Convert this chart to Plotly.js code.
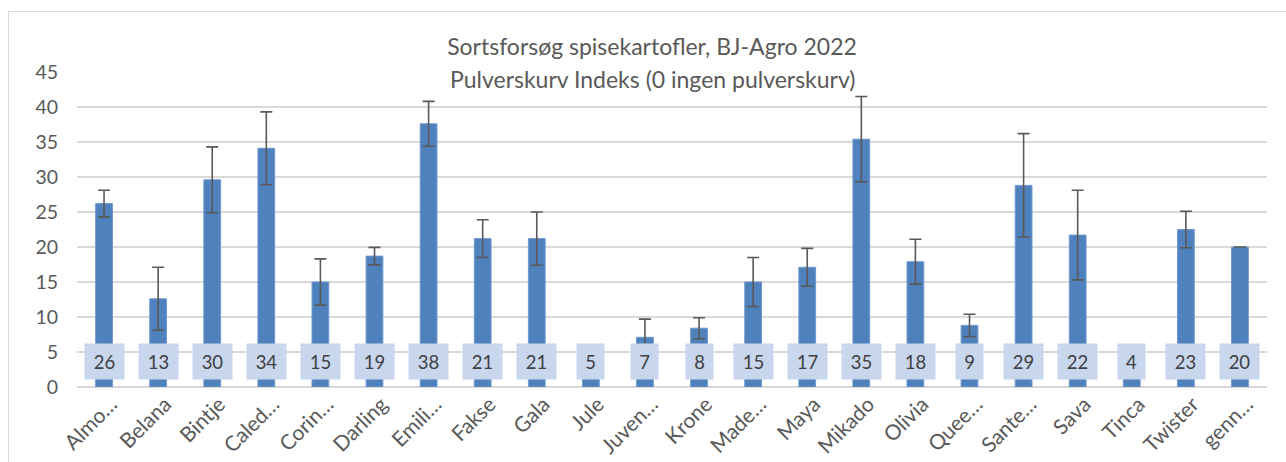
<!DOCTYPE html>
<html>
<head>
<meta charset="utf-8">
<script src="https://cdn.plot.ly/plotly-3.0.1.min.js"></script>
<style>
  html, body { margin: 0; padding: 0; background: #ffffff; overflow: hidden; }
  #chart { position: absolute; left: 0; top: 0; width: 1286px; height: 462px; }
  #frame { position: absolute; left: 8px; top: 11px; width: 1300px; height: 500px;
           border: 1px solid #d9d9d9; pointer-events: none; }
</style>
</head>
<body>
<div id="chart"></div>
<div id="frame"></div>
<script>
// Data
const categories = ["Almo…", "Belana", "Bintje", "Caled…", "Corin…", "Darling", "Emili…", "Fakse", "Gala", "Jule", "Juven…",
                    "Krone", "Made…", "Maya", "Mikado", "Olivia", "Quee…", "Sante…", "Sava", "Tinca", "Twister", "genn…"];
const values = [26.2, 12.6, 29.6, 34.1, 15.0, 18.7, 37.6, 21.2, 21.2, 4.8, 7.1,
                8.4, 15.0, 17.1, 35.4, 17.9, 8.8, 28.8, 21.7, 4.2, 22.5, 20.0];
const errors = [1.9, 4.5, 4.7, 5.2, 3.3, 1.25, 3.2, 2.7, 3.8, null, 2.6,
                1.5, 3.5, 2.7, 6.1, 3.2, 1.6, 7.4, 6.4, null, 2.6, null];
const titleLine1 = "Sortsforsøg spisekartofler, BJ-Agro 2022";
const titleLine2 = "Pulverskurv Indeks (0 ingen pulverskurv)";
const yTicks = [0, 5, 10, 15, 20, 25, 30, 35, 40, 45];

const FONT = "Lato, 'Open Sans', sans-serif";

const trace = {
  type: "bar",
  x: categories,
  y: values,
  marker: { color: "#4f81bd", line: { color: "#6e98cf", width: 1 } },
  error_y: { type: "data", array: errors, visible: true, color: "#595959", thickness: 1.6, width: 6 },
  hoverinfo: "skip"
};

const labelAnnotations = categories.map((c, i) => {
  const t = String(Math.round(values[i]));
  return {
    x: c, y: 3.67, xref: "x", yref: "y",
    text: t, showarrow: false,
    font: { family: FONT, size: 18.5, color: "#404040" },
    bgcolor: "#c8d6ee",
    width: t.length > 1 ? 37 : 25, height: 33, borderpad: 1,
    xanchor: "center", yanchor: "middle"
  };
});

labelAnnotations.push({
  text: titleLine2, xref: "paper", yref: "paper",
  x: (652 - 77) / (1267 - 77), y: 1 + (72 - 79) / 315,
  xanchor: "center", yanchor: "middle", showarrow: false,
  font: { family: FONT, size: 23, color: "#595959" }
});

const layout = {
  width: 1286, height: 462,
  margin: { l: 77, r: 19, t: 72, b: 75 },
  paper_bgcolor: "#ffffff", plot_bgcolor: "#ffffff",
  title: {
    text: titleLine1,
    x: 652 / 1286, xref: "container", xanchor: "center",
    y: 1 - 47 / 462, yref: "container", yanchor: "middle",
    font: { family: FONT, size: 23, color: "#595959" }
  },
  showlegend: false,
  bargap: 0.69,
  xaxis: {
    type: "category",
    tickangle: -45,
    tickfont: { family: FONT, size: 21, color: "#595959" },
    showgrid: false, showline: false, ticks: "",
    ticklabelstandoff: 0, ticklabelshift: 7,
    automargin: false
  },
  yaxis: {
    range: [0, 45],
    tickvals: yTicks,
    ticktext: yTicks.map(String),
    tickfont: { family: FONT, size: 19.5, color: "#595959" },
    showgrid: true, gridcolor: "#d9d9d9", gridwidth: 1.3,
    zeroline: true, zerolinecolor: "#d9d9d9", zerolinewidth: 1.3,
    showline: false, ticks: "", ticklabelstandoff: 18,
    automargin: false, fixedrange: true
  },
  annotations: labelAnnotations
};

Plotly.newPlot("chart", [trace], layout, { staticPlot: true, displayModeBar: false });
</script>
</body>
</html>
